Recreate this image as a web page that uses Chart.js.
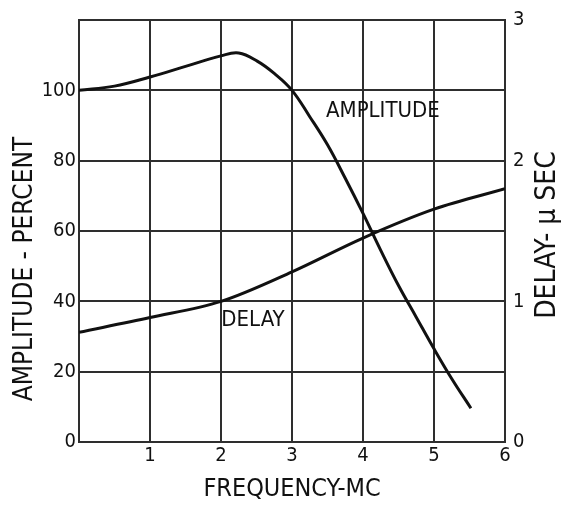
<!DOCTYPE html>
<html>
<head>
<meta charset="utf-8">
<script src="https://cdn.jsdelivr.net/npm/chart.js@4"></script>
<style>
  html, body { margin: 0; padding: 0; background: #fff; }
  #wrap { width: 568px; height: 505px; }
</style>
</head>
<body>
<div id="wrap"><canvas id="chart" width="568" height="505"></canvas></div>
<script>
// frequency in MC, amplitude in percent
const ampFreq = [0, 0.5, 1, 1.5, 2, 2.25, 2.51, 2.75, 3, 3.25, 3.5, 3.75, 4, 4.25, 4.5, 4.75, 5, 5.25, 5.52];
const ampValues = [100, 101.2, 103.8, 106.8, 109.8, 110.6, 108.3, 104.8, 100, 92.5, 84.5, 75, 65, 54.5, 44.5, 35.5, 26.5, 18, 9.6];

// delay in microseconds
const delayFreq = [0, 1, 2, 3, 4, 5, 6];
const delayValues = [0.78, 0.885, 1.0, 1.21, 1.45, 1.655, 1.80];

const xTicks = [1, 2, 3, 4, 5, 6];
const ampTicks = [0, 20, 40, 60, 80, 100];
const delayTicks = [0, 1, 2, 3];

const FONT = '"Liberation Sans Narrow", "DejaVu Sans Condensed", "Roboto Condensed", sans-serif';
const INK = '#111';
const GRID = '#2e2e2e';

function toPoints(xs, ys) {
    return xs.map((x, i) => ({ x: x, y: ys[i] }));
}

function rotatedText(ctx, text, x, y, size) {
    ctx.save();
    ctx.fillStyle = INK;
    ctx.textAlign = 'center';
    ctx.textBaseline = 'middle';
    ctx.font = size + 'px ' + FONT;
    ctx.translate(x, y);
    ctx.rotate(-Math.PI / 2);
    ctx.fillText(text, 0, 0);
    ctx.restore();
}

// vertical axis titles and curve labels
const textPlugin = {
    id: 'labels',
    afterDraw(chart) {
        const ctx = chart.ctx;
        const x = chart.scales.x;
        const y = chart.scales.y;
        ctx.save();
        ctx.fillStyle = INK;
        ctx.textAlign = 'center';
        ctx.textBaseline = 'middle';
        ctx.font = '22px ' + FONT;
        ctx.fillText('AMPLITUDE', x.getPixelForValue(4.28), y.getPixelForValue(94));
        ctx.fillText('DELAY', x.getPixelForValue(2.45), y.getPixelForValue(34.5));
        ctx.restore();

        rotatedText(ctx, 'AMPLITUDE - PERCENT', 25, 269, 26);
        rotatedText(ctx, 'DELAY- \u03bc SEC', 548, 235, 28);
    }
};

new Chart(document.getElementById('chart'), {
    type: 'line',
    data: {
        datasets: [
            {
                label: 'Amplitude',
                data: toPoints(ampFreq, ampValues),
                yAxisID: 'y',
                borderColor: INK,
                borderWidth: 3,
                pointRadius: 0,
                tension: 0.4,
                fill: false
            },
            {
                label: 'Delay',
                data: toPoints(delayFreq, delayValues),
                yAxisID: 'y1',
                borderColor: INK,
                borderWidth: 3,
                pointRadius: 0,
                cubicInterpolationMode: 'monotone',
                fill: false
            }
        ]
    },
    options: {
        responsive: false,
        animation: false,
        layout: { padding: { top: 15, left: 0, right: 0, bottom: 0 } },
        plugins: {
            legend: { display: false },
            tooltip: { enabled: false }
        },
        scales: {
            x: {
                type: 'linear',
                min: 0,
                max: 6,
                afterFit: scale => { scale.height = 63; },
                afterBuildTicks: scale => {
                    scale.ticks = [0].concat(xTicks).map(v => ({ value: v }));
                },
                ticks: {
                    color: INK,
                    padding: 2,
                    font: { family: FONT, size: 20 },
                    callback: v => (v === 0 ? '' : v)
                },
                grid: { color: GRID, lineWidth: 2, drawTicks: false },
                border: { color: GRID, width: 2 },
                title: {
                    display: true,
                    text: 'FREQUENCY-MC',
                    color: INK,
                    padding: { top: 0, bottom: 1 },
                    font: { family: FONT, size: 25 }
                }
            },
            y: {
                position: 'left',
                min: 0,
                max: 120,
                afterFit: scale => { scale.width = 79; },
                afterBuildTicks: scale => {
                    scale.ticks = ampTicks.concat([120]).map(v => ({ value: v }));
                },
                ticks: {
                    color: INK,
                    padding: 3,
                    font: { family: FONT, size: 20 },
                    callback: v => (v === 120 ? '' : v)
                },
                grid: { color: GRID, lineWidth: 2, drawTicks: false },
                border: { color: GRID, width: 2 }
            },
            y1: {
                position: 'right',
                min: 0,
                max: 3,
                afterFit: scale => { scale.width = 63; },
                afterBuildTicks: scale => {
                    scale.ticks = delayTicks.map(v => ({ value: v }));
                },
                ticks: {
                    color: INK,
                    padding: 8,
                    font: { family: FONT, size: 20 }
                },
                grid: { display: false, drawTicks: false },
                border: { color: GRID, width: 2 }
            }
        }
    },
    plugins: [textPlugin]
});
</script>
</body>
</html>
